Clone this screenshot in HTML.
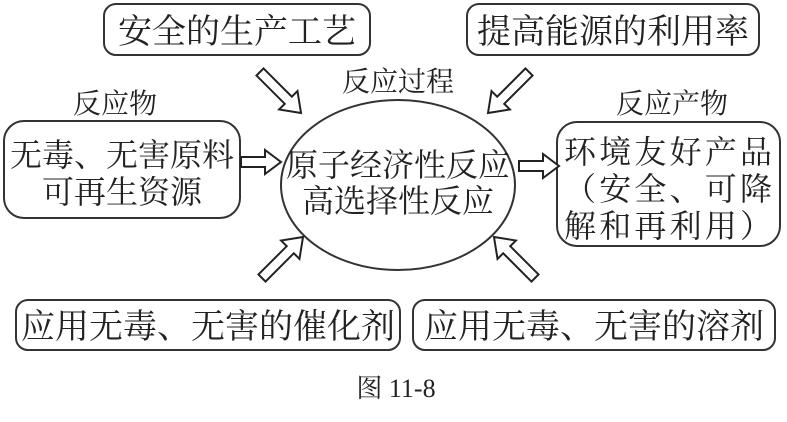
<!DOCTYPE html>
<html><head><meta charset="utf-8"><style>
body{margin:0;background:#fff;}
svg text{font-family:"Liberation Serif","Noto Serif CJK SC","Noto Sans CJK SC",serif;fill:#222;}
</style></head><body>
<svg width="787" height="417" viewBox="0 0 787 417" xmlns="http://www.w3.org/2000/svg">
<defs>
<polygon id="ar" points="0,-5 24,-5 24,-12 40,0 24,12 24,5 0,5" fill="#fff" stroke="#222" stroke-width="2"/>
<polygon id="ad" points="0,-5 40,-5 40,-13 58,0 40,13 40,5 0,5" fill="#fff" stroke="#222" stroke-width="2"/>
</defs>
<g fill="none" stroke="#333" stroke-width="2">
<rect x="104" y="4" width="266" height="51" rx="12"/>
<rect x="467" y="4" width="292" height="51" rx="12"/>
<rect x="4" y="121" width="236" height="97" rx="20"/>
<rect x="557" y="122" width="223" height="124" rx="20"/>
<rect x="16" y="300" width="384" height="50" rx="12"/>
<rect x="413" y="300" width="362" height="50" rx="12"/>
<ellipse cx="398" cy="185" rx="117" ry="85"/>
</g>
<use href="#ar" transform="translate(241,162)"/>
<use href="#ar" transform="translate(519,166)"/>
<use href="#ad" transform="translate(260,72) rotate(45)"/>
<use href="#ad" transform="translate(529,72) rotate(135)"/>
<use href="#ad" transform="translate(262,278) rotate(-45)"/>
<use href="#ad" transform="translate(535,278) rotate(-135)"/>
<g font-size="34">
<text x="237" y="43" text-anchor="middle">安全的生产工艺</text>
<text x="613" y="43" text-anchor="middle">提高能源的利用率</text>
<text x="122" y="166" text-anchor="middle" font-size="32">无毒、无害原料</text>
<text x="122" y="203" text-anchor="middle" font-size="32">可再生资源</text>
<text x="398" y="176" text-anchor="middle" font-size="32">原子经济性反应</text>
<text x="398" y="212" text-anchor="middle" font-size="32">高选择性反应</text>
<text x="668" y="163" text-anchor="middle" font-size="32" textLength="208" lengthAdjust="spacing">环境友好产品</text>
<text x="668" y="200" text-anchor="middle" font-size="32" textLength="208" lengthAdjust="spacing">（安全、可降</text>
<text x="668" y="237" text-anchor="middle" font-size="32" textLength="208" lengthAdjust="spacing">解和再利用）</text>
<text x="208" y="338" text-anchor="middle">应用无毒、无害的催化剂</text>
<text x="594" y="338" text-anchor="middle">应用无毒、无害的溶剂</text>
</g>
<g font-size="28">
<text x="115" y="113" text-anchor="middle">反应物</text>
<text x="398" y="91" text-anchor="middle">反应过程</text>
<text x="672" y="113" text-anchor="middle">反应产物</text>
<text x="396" y="397" text-anchor="middle" font-size="26">图 11-8</text>
</g>
</svg>
</body></html>
